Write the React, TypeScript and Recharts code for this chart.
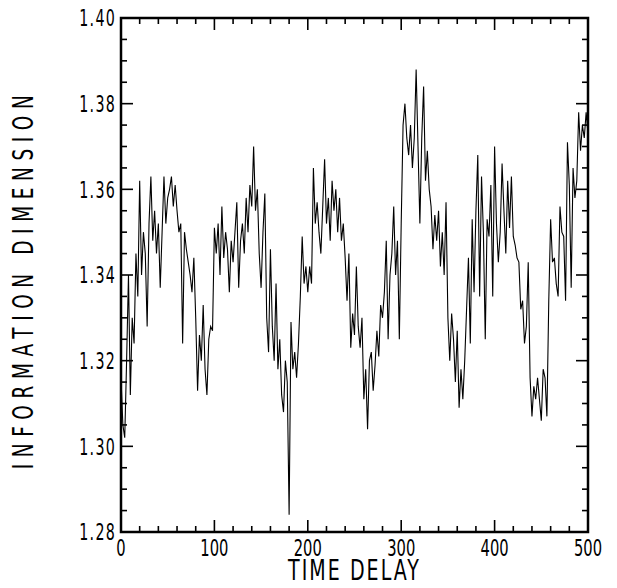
import React from 'react';
import { LineChart, Line, XAxis, YAxis, ReferenceArea, Label } from 'recharts';

// Information dimension sampled every 2 time-delay units
const infoDimSeg0 = [
  1.316, 1.305, 1.302, 1.320, 1.340, 1.312, 1.330, 1.324, 1.345, 1.335,
  1.362, 1.340, 1.350, 1.345, 1.328, 1.352, 1.363, 1.348, 1.355, 1.345,
  1.352, 1.337, 1.350, 1.363, 1.352, 1.358, 1.360, 1.363, 1.356, 1.361,
  1.355, 1.350, 1.352, 1.324, 1.350, 1.346, 1.343, 1.340, 1.336, 1.344,
  1.330, 1.313, 1.326, 1.320, 1.333, 1.318, 1.312, 1.325, 1.328, 1.327,
];
const infoDimSeg1 = [
  1.351, 1.345, 1.352, 1.340, 1.356, 1.344, 1.350, 1.346, 1.336, 1.348,
  1.343, 1.350, 1.357, 1.337, 1.348, 1.352, 1.345, 1.358, 1.350, 1.361,
  1.356, 1.370, 1.355, 1.360, 1.345, 1.337, 1.350, 1.359, 1.330, 1.322,
  1.346, 1.328, 1.320, 1.338, 1.318, 1.325, 1.312, 1.308, 1.320, 1.315,
  1.284, 1.329, 1.318, 1.322, 1.316, 1.324, 1.335, 1.349, 1.338, 1.342,
];
const infoDimSeg2 = [
  1.336, 1.342, 1.338, 1.365, 1.352, 1.357, 1.350, 1.345, 1.356, 1.367,
  1.352, 1.358, 1.348, 1.362, 1.355, 1.360, 1.350, 1.358, 1.348, 1.352,
  1.344, 1.334, 1.345, 1.323, 1.331, 1.326, 1.342, 1.328, 1.323, 1.330,
  1.311, 1.318, 1.304, 1.320, 1.322, 1.313, 1.319, 1.327, 1.321, 1.333,
  1.330, 1.336, 1.348, 1.325, 1.340, 1.345, 1.356, 1.340, 1.348, 1.325,
];
const infoDimSeg3 = [
  1.352, 1.375, 1.380, 1.372, 1.368, 1.375, 1.365, 1.372, 1.388, 1.370,
  1.352, 1.372, 1.384, 1.362, 1.369, 1.360, 1.356, 1.346, 1.354, 1.348,
  1.355, 1.342, 1.350, 1.340, 1.357, 1.330, 1.320, 1.331, 1.325, 1.315,
  1.327, 1.309, 1.318, 1.311, 1.320, 1.332, 1.344, 1.324, 1.353, 1.336,
  1.355, 1.368, 1.335, 1.363, 1.350, 1.325, 1.353, 1.349, 1.361, 1.335,
];
const infoDimSeg4 = [
  1.370, 1.352, 1.343, 1.350, 1.366, 1.355, 1.345, 1.362, 1.351, 1.363,
  1.349, 1.347, 1.344, 1.343, 1.332, 1.334, 1.324, 1.328, 1.343, 1.316,
  1.307, 1.314, 1.311, 1.316, 1.311, 1.306, 1.318, 1.316, 1.307, 1.334,
  1.353, 1.343, 1.344, 1.338, 1.335, 1.356, 1.350, 1.349, 1.334, 1.371,
  1.361, 1.337, 1.365, 1.358, 1.362, 1.378, 1.369, 1.375, 1.372, 1.378,
  1.373,
];

const delayStep = 2;
const xTicks = [0, 20, 40, 60, 80, 100, 120, 140, 160, 180, 200, 220, 240, 260, 280, 300, 320, 340, 360, 380, 400, 420, 440, 460, 480, 500];
const xLabelTicks = [0, 100, 200, 300, 400, 500];
const yTicks = [1.28, 1.285, 1.29, 1.295, 1.30, 1.305, 1.31, 1.315, 1.32, 1.325, 1.33, 1.335, 1.34, 1.345, 1.35, 1.355, 1.36, 1.365, 1.37, 1.375, 1.38, 1.385, 1.39, 1.395, 1.40];
const yLabelTicks = [1.28, 1.30, 1.32, 1.34, 1.36, 1.38, 1.40];

const allValues = [...infoDimSeg0, ...infoDimSeg1, ...infoDimSeg2, ...infoDimSeg3, ...infoDimSeg4];
const data = allValues.map((v, i) => ({ delay: i * delayStep, dim: v }));

const W = 600;
const H = 580;
const PLOT_LEFT = 113;
const PLOT_RIGHT = 580;
const PLOT_TOP = 10;
const PLOT_BOTTOM = 524;
const FONT = "'DejaVu Sans', sans-serif";
const MAJOR = 12;
const MINOR = 6;

const isLabelX = (v: number) => xLabelTicks.some((t) => Math.abs(t - v) < 1e-6);
const isLabelY = (v: number) => yLabelTicks.some((t) => Math.abs(t - v) < 1e-6);

// Condensed text: horizontally squeezed glyphs (plotter-like lettering)
const CondText = ({ x, y, size, sx, anchor = 'middle', rotate = 0, spacing = 0, dy, children }: any) => (
  <g transform={`translate(${x} ${y}) rotate(${rotate}) scale(${sx} 1)`}>
    <text x={0} y={0} dy={dy} textAnchor={anchor} fontFamily={FONT} fontSize={size} letterSpacing={spacing} fill="#000">
      {children}
    </text>
  </g>
);

const XTick = (props: any) => {
  const { x, payload } = props;
  const v = payload.value;
  const major = isLabelX(v);
  const len = major ? MAJOR : MINOR;
  return (
    <g>
      <line x1={x} y1={PLOT_BOTTOM} x2={x} y2={PLOT_BOTTOM - len} stroke="#000" strokeWidth={1.6} />
      <line x1={x} y1={PLOT_TOP} x2={x} y2={PLOT_TOP + len} stroke="#000" strokeWidth={1.6} />
      {major && (
        <CondText x={x} y={PLOT_BOTTOM + 24} size={23} sx={0.64}>
          {String(v)}
        </CondText>
      )}
    </g>
  );
};

const YTick = (props: any) => {
  const { y, payload } = props;
  const v = payload.value;
  const major = isLabelY(v);
  const len = major ? MAJOR : MINOR;
  return (
    <g>
      <line x1={PLOT_LEFT} y1={y} x2={PLOT_LEFT + len} y2={y} stroke="#000" strokeWidth={1.6} />
      <line x1={PLOT_RIGHT} y1={y} x2={PLOT_RIGHT - len} y2={y} stroke="#000" strokeWidth={1.6} />
      {major && (
        <CondText x={PLOT_LEFT - 5} y={y} dy="0.36em" size={23} sx={0.62} anchor="end" spacing={2}>
          {v.toFixed(2)}
        </CondText>
      )}
    </g>
  );
};

export default function App() {
  return (
    <div style={{ width: W, height: H, background: '#fff' }}>
      <LineChart
        width={W}
        height={H}
        data={data}
        margin={{ top: PLOT_TOP, right: W - PLOT_RIGHT, left: 0, bottom: 0 }}
      >
        <XAxis
          dataKey="delay"
          type="number"
          domain={[0, 500]}
          ticks={xTicks}
          interval={0}
          tick={<XTick />}
          tickLine={false}
          axisLine={false}
          tickSize={0}
          tickMargin={0}
          height={H - PLOT_BOTTOM}
          allowDataOverflow
        >
          <Label
            content={(p: any) => {
              const vb = p.viewBox;
              return (
                <CondText x={vb.x + vb.width / 2} y={H - 8} size={28} sx={0.68} spacing={3}>
                  TIME DELAY
                </CondText>
              );
            }}
          />
        </XAxis>
        <YAxis
          type="number"
          domain={[1.28, 1.4]}
          ticks={yTicks}
          interval={0}
          tick={<YTick />}
          tickLine={false}
          axisLine={false}
          tickSize={0}
          tickMargin={0}
          width={PLOT_LEFT}
          allowDataOverflow
        >
          <Label
            content={(p: any) => {
              const vb = p.viewBox;
              const cx = 25;
              const cy = vb.y + vb.height / 2 + 4;
              return (
                <CondText x={cx} y={cy} size={28} sx={0.66} rotate={-90} spacing={10}>
                  INFORMATION DIMENSION
                </CondText>
              );
            }}
          />
        </YAxis>
        <ReferenceArea
          x1={0}
          x2={500}
          y1={1.28}
          y2={1.4}
          fill="none"
          fillOpacity={0}
          stroke="#000"
          strokeWidth={2.5}
          ifOverflow="visible"
        />
        <Line
          type="linear"
          dataKey="dim"
          stroke="#000"
          strokeWidth={1.1}
          dot={false}
          isAnimationActive={false}
        />
      </LineChart>
    </div>
  );
}
